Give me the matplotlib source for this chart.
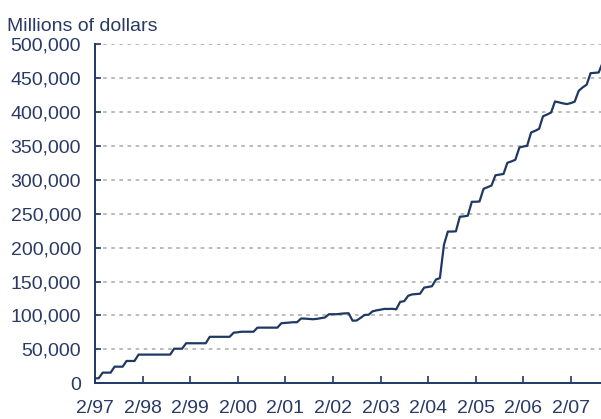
import matplotlib.pyplot as plt
import pandas as pd

plt.rcParams['font.family'] = ['Liberation Sans', 'DejaVu Sans']

# monthly amount outstanding, millions of dollars, starting Feb 1997
months = pd.date_range('1997-02-01', periods=129, freq='MS')
outstanding = [
    7400, 7400, 15700, 15700, 15700, 24500, 24500, 24500, 32900, 32900,
    32900, 42300, 42300, 42300, 42300, 42300, 42300, 42300, 42300, 42300,
    51000, 51000, 51000, 59000, 59000, 59000, 59000, 59000, 59000, 68500,
    68500, 68500, 68500, 68500, 68500, 74600, 75200, 76000, 76000, 76000,
    76000, 82000, 82000, 82000, 82000, 82000, 82000, 88500, 89000, 89500,
    90000, 90000, 95500, 95300, 94800, 94400, 95000, 96000, 97000, 101800,
    101800, 101800, 102500, 103000, 103200, 92300, 92500, 96500, 100700, 101000,
    106000, 107500, 108500, 109600, 109600, 109800, 109000, 120000, 121000, 129000,
    131000, 131500, 132000, 141000, 142000, 143000, 153000, 155000, 204000, 223600,
    223600, 224000, 245500, 246000, 247000, 267500, 267500, 268000, 286600, 289000,
    291400, 306500, 307500, 308500, 325000, 327000, 329400, 347500, 349000, 350000,
    369600, 372000, 375000, 393500, 396000, 399000, 415300, 414000, 412500, 411500,
    413000, 415000, 431000, 436000, 440000, 457000, 457500, 458000, 472000,
]

x_ticks = pd.to_datetime(['1997-02-01', '1998-02-01', '1999-02-01', '2000-02-01',
                          '2001-02-01', '2002-02-01', '2003-02-01', '2004-02-01',
                          '2005-02-01', '2006-02-01', '2007-02-01'])
x_labels = ['2/97', '2/98', '2/99', '2/00', '2/01', '2/02', '2/03', '2/04',
            '2/05', '2/06', '2/07']
y_ticks = [0, 50000, 100000, 150000, 200000, 250000, 300000, 350000, 400000,
           450000, 500000]
y_labels = ['0', '50,000', '100,000', '150,000', '200,000', '250,000', '300,000',
            '350,000', '400,000', '450,000', '500,000']

NAVY = '#1f3864'
TEXT = '#2a3a66'
GRID = '#b5b5b5'

fig = plt.figure(figsize=(6.01, 4.19), dpi=100)
ax = fig.add_axes([95 / 601, (419 - 383.3) / 419, (601 - 95) / 601, (383.3 - 44) / 419])

ax.plot(months, outstanding, color=NAVY, linewidth=1.6)

ax.set_ylim(0, 500000)
ax.set_xlim(months[0], pd.Timestamp('2007-09-19'))

ax.set_yticks(y_ticks)
ax.set_yticklabels(y_labels)
ax.set_xticks(x_ticks)
ax.set_xticklabels(x_labels)

ax.yaxis.grid(True, linestyle=(0, (2, 2.5)), color=GRID, linewidth=1.3)
ax.set_axisbelow(True)

for side in ['top', 'right']:
    ax.spines[side].set_visible(False)
for side in ['left', 'bottom']:
    ax.spines[side].set_color(NAVY)
    ax.spines[side].set_linewidth(1.4)

ax.tick_params(axis='y', direction='in', length=4, width=1.2, color=NAVY,
               pad=10, labelsize=14, labelcolor=TEXT)
ax.tick_params(axis='x', direction='in', length=5, width=1.2, color=NAVY,
               pad=12, labelsize=14, labelcolor=TEXT)

fig.text(7 / 601, 1 - 30.6 / 419, 'Millions of dollars', fontsize=14,
         color=TEXT, va='baseline', ha='left')

fig.savefig('out.png', dpi=100)
plt.close(fig)
